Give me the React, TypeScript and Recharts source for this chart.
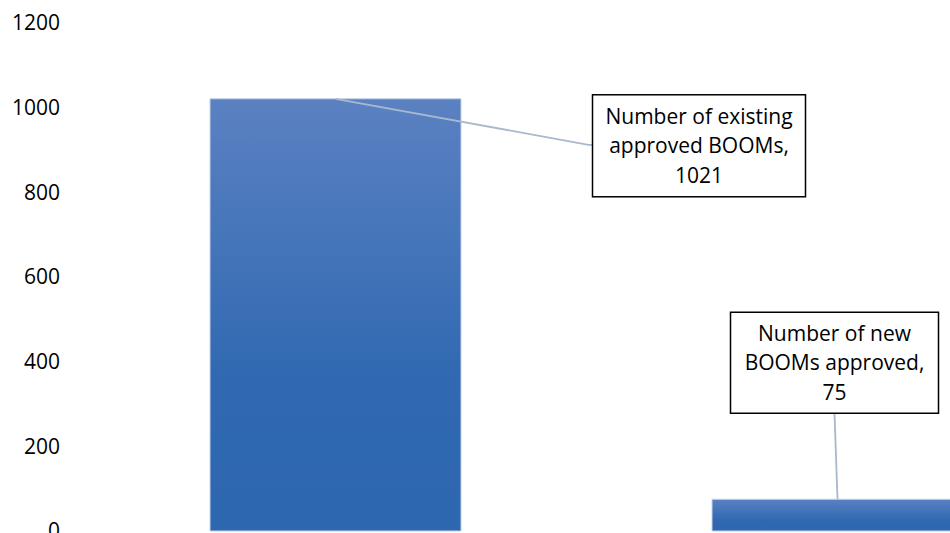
import { BarChart, Bar, XAxis, YAxis, LabelList } from 'recharts'

const categories = ['Number of existing approved BOOMs', 'Number of new BOOMs approved']
const boomCounts = [1021, 75]
const yTicks = [0, 200, 400, 600, 800, 1000, 1200]

const data = categories.map((name, i) => ({ name, value: boomCounts[i] }))

// where each callout box sits, relative to the top-centre of its bar
const callouts = [
  { dx: 257, dy: -4, w: 213, h: 102, anchor: 'left' },
  { dx: -107, dy: -187, w: 208, h: 101, anchor: 'bottom' },
]

const FONT = '"Open Sans", sans-serif'

function wrap(text: string, max: number) {
  const lines: string[] = []
  let cur = ''
  text.split(' ').forEach((word) => {
    const next = cur ? cur + ' ' + word : word
    if (next.length > max && cur) {
      lines.push(cur)
      cur = word
    } else {
      cur = next
    }
  })
  if (cur) lines.push(cur)
  return lines
}

function Callout(props: any) {
  const { x, y, width, value, index } = props
  const i = typeof index === 'number' ? index : boomCounts.indexOf(Number(value))
  const c = callouts[i]
  if (!c) return null
  const cx = Number(x) + Number(width) / 2
  const top = Number(y)
  const bx = cx + c.dx
  const by = top + c.dy
  const words = wrap(categories[i] + ',', 18)
  const lines = [...words, String(value)]
  const lh = 29.5
  const firstY = by + c.h / 2 - ((lines.length - 1) * lh) / 2

  let pts: string
  if (c.anchor === 'left') {
    const ay = by + c.h / 2 - 1
    pts = `${cx},${top} ${bx - 4},${ay} ${bx},${ay}`
  } else {
    pts = `${bx + c.w / 2},${by + c.h} ${cx},${top}`
  }

  return (
    <g>
      <polyline points={pts} fill="none" stroke="#A8B8CD" strokeWidth={1.8} />
      <rect x={bx} y={by} width={c.w} height={c.h} fill="#fff" stroke="#000" strokeWidth={1.5} />
      {lines.map((ln, k) => (
        <text
          key={k}
          x={bx + c.w / 2}
          y={firstY + k * lh}
          dy="0.355em"
          textAnchor="middle"
          fontSize={21}
          fontFamily={FONT}
          fill="#000"
        >
          {ln}
        </text>
      ))}
    </g>
  )
}

export default function App() {
  return (
    <div
      style={{
        position: 'absolute',
        left: 0,
        top: 0,
        width: 950,
        height: 533,
        overflow: 'hidden',
        background: '#fff',
        fontFamily: FONT,
      }}
    >
      <BarChart
        width={1088}
        height={545}
        data={data}
        margin={{ top: 23, right: 0, left: 0, bottom: 14 }}
        barSize={251}
      >
        <defs>
          <linearGradient id="barFill" x1="0" y1="0" x2="0" y2="1">
            <stop offset="0%" stopColor="#5B81C2" />
            <stop offset="65%" stopColor="#3069B1" />
            <stop offset="100%" stopColor="#2D67B0" />
          </linearGradient>
        </defs>
        <XAxis dataKey="name" hide />
        <YAxis
          domain={[0, 1200]}
          ticks={yTicks}
          width={84}
          axisLine={false}
          tickLine={false}
          tickSize={0}
          tickMargin={24}
          tick={{ fontSize: 21, fill: '#000', fontFamily: FONT }}
        />
        <Bar dataKey="value" fill="url(#barFill)" stroke="#C3D2EB" strokeWidth={1} isAnimationActive={false}>
          <LabelList dataKey="value" content={<Callout />} />
        </Bar>
      </BarChart>
    </div>
  )
}
